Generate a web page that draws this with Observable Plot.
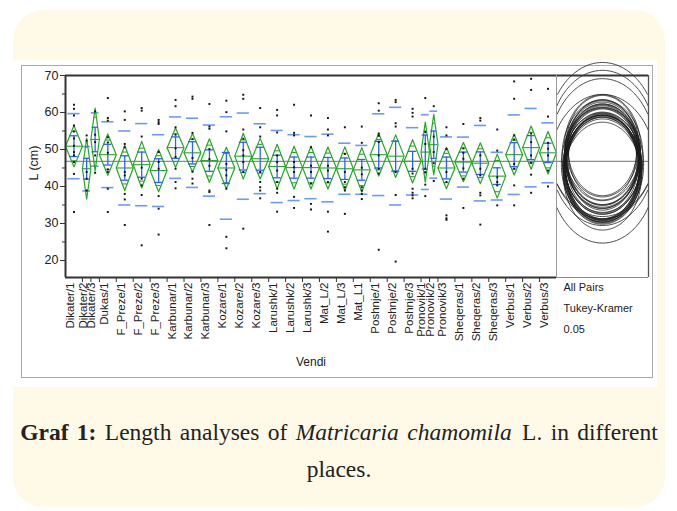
<!DOCTYPE html>
<html><head><meta charset="utf-8">
<script src="https://cdn.jsdelivr.net/npm/d3@7"></script>
<script src="https://cdn.jsdelivr.net/npm/@observablehq/plot@0.6"></script>
<style>
html,body{margin:0;padding:0;background:#fff;width:677px;height:511px;overflow:hidden;position:relative}
#card{position:absolute;left:13px;top:10px;width:652px;height:497px;background:#fefae7;border-radius:30px}
#white{position:absolute;left:13px;top:60px;width:644px;height:327px;background:#fff}
#panel{position:absolute;left:21px;top:65px;width:632px;height:313px;border:1px solid #a9a9a9;box-sizing:border-box}
#chart{position:absolute;left:13px;top:60px}
#cap{position:absolute;left:13px;width:652px;top:414px;text-align:center;font-family:"Liberation Serif",serif;font-size:23.5px;line-height:37px;color:#222;word-spacing:2.5px}
#cap i{padding-right:2px}
</style></head>
<body>
<div id="card"></div>
<div id="white"></div>
<div id="panel"></div>
<div id="chart"></div>
<div id="cap"><b>Graf 1:</b> Length analyses of <i>Matricaria chamomila</i> L. in different<br><span>places.</span></div>
<script>
const categories = ["Dikater/1","Dikater/2","Dikater/3","Dukas/1","F_Preze/1","F_Preze/2","F_Preze/3","Karbunar/1","Karbunar/2","Karbunar/3","Kozare/1","Kozare/2","Kozare/3","Larushk/1","Larushk/2","Larushk/3","Mat_L/2","Mat_L/3","Mat_L1","Poshnje/1","Poshnje/2","Poshnje/3","Pronovik/1","Pronovik/2","Pronovik/3","Sheqeras/1","Sheqeras/2","Sheqeras/3","Verbus/1","Verbus/2","Verbus/3"];
const sampleSize = [10,5,5,10,10,10,10,10,10,10,10,10,10,10,10,10,10,10,10,10,10,10,5,5,10,10,10,10,10,10,10];
const means = [50.9,44.8,52.7,48.6,45.0,45.9,44.3,50.5,49.1,47.0,45.0,48.2,47.5,45.4,45.1,45.1,45.0,44.8,44.5,48.6,48.2,46.8,49.3,51.3,45.0,46.6,46.3,42.8,48.6,50.5,49.1];
const diamondHalf = [5.6,8.2,8.5,5.6,6.1,6.3,5.7,5.3,5.2,5.9,5.6,6.2,5.5,6.0,5.8,5.8,5.7,5.9,6.0,5.8,5.75,5.85,8.1,8.2,5.6,5.3,5.5,5.95,5.5,5.85,5.75];
const stdDev = [8.8,6.0,7.2,8.9,10.0,11.1,9.7,8.3,9.35,9.6,13.85,11.65,9.45,9.75,8.9,8.4,9.15,6.9,6.6,11.05,13.2,9.1,10.1,9.05,8.4,6.75,10.2,6.45,10.75,10.6,8.1];
const stdErr = [2.8,2.8,3.3,2.8,3.3,3.4,3.2,2.9,3.0,2.9,4.2,3.75,3.1,3.05,2.85,2.85,2.85,2.9,2.8,3.6,4.05,2.7,4.6,3.7,2.95,2.7,3.05,2.25,3.25,3.25,2.6];
const observations = [
 [62.1,61.0,59.2,56.5,54.9,53.0,51.0,49.3,48.4,46.6,43.4,33.1],
 [53.8,52.4,43.9,42.1,38.9],
 [60.3,54.0,52.0,48.4,43.7],
 [63.9,58.5,57.8,53.3,51.9,49.1,44.6,43.9,39.4,33.1],
 [60.3,58.0,51.5,50.6,43.9,43.0,38.0,36.5,29.6],
 [61.2,60.5,53.5,45.1,42.1,40.3,37.7,24.1],
 [58.0,57.4,56.9,49.3,46.6,44.8,37.4,34.0,27.0],
 [63.4,61.7,56.0,54.0,50.3,48.0,44.8,41.2,39.5],
 [64.3,63.7,54.5,52.8,47.7,44.0,42.1,40.8],
 [62.3,56.2,55.6,50.1,47.4,45.6,38.9,38.5,29.6],
 [63.2,60.1,54.9,46.1,44.5,43.0,39.4,26.4,23.3],
 [64.8,63.7,55.4,52.9,49.8,48.4,46.6,43.9,28.6],
 [61.2,56.0,53.5,43.9,41.2,39.8,38.9,36.8],
 [60.7,59.2,54.6,48.4,46.6,44.3,41.2,39.4,38.3,33.2],
 [62.1,54.5,53.8,46.6,45.2,43.9,37.2,34.2],
 [59.2,50.6,45.6,43.9,40.8,35.3,33.8],
 [58.5,55.4,53.8,45.6,44.3,41.2,33.2,27.8],
 [56.0,48.8,43.9,41.2,39.8,38.9,32.6],
 [56.2,51.8,45.1,43.3,39.8,38.9,38.0,36.6],
 [62.5,60.5,54.3,53.7,52.0,48.4,44.8,43.5,22.9],
 [63.4,62.8,57.1,56.2,43.9,37.7,19.7],
 [61.0,59.9,58.9,44.8,43.5,39.4,38.3,37.6,36.8],
 [63.9,54.7,51.5,44.8,43.9,40.5,37.4],
 [61.7,53.5,49.3,46.3,41.5],
 [56.0,53.8,50.1,43.9,41.2,32.2,31.4,31.0],
 [56.9,50.3,49.1,47.5,44.9,42.1,34.2],
 [58.5,57.8,48.4,44.8,43.0,38.3,37.6,29.7],
 [55.4,49.7,42.5,41.2,40.3,34.9],
 [68.4,63.7,53.8,52.7,46.1,44.8,40.3,34.9],
 [69.1,66.1,54.3,52.0,48.4,46.4,43.2,38.3],
 [66.4,58.9,51.8,50.2,48.4,44.3,40.0]
];
const grandMean = 46.8;
const yTicks = [20,30,40,50,60,70];
const yMinorTicks = [25,35,45,55,65];
const panelNotes = ["All Pairs","Tukey-Kramer","0.05"];
const xTitle = "Vendi";
const yTitle = "L (cm)";

// layout helpers
const W = 644, H = 327;
const mL = 52, mR = 9, mT = 15, mB = 110;
const yDom = [15.4, 70];
const total = d3.sum(sampleSize);
const pxPerX = 491 / total;
const panelW = 92 / pxPerX;
const xMax = total + panelW;
const pxPerY = (H - mT - mB) / (yDom[1] - yDom[0]);

let acc = 0;
const groups = categories.map((name, i) => {
  const w = sampleSize[i];
  const g = {name, i, x0: acc, x1: acc + w, xc: acc + w / 2, w, m: means[i], h: diamondHalf[i], sd: stdDev[i], se: stdErr[i]};
  acc += w;
  return g;
});
const boundaries = [0, ...groups.map(g => g.x1)];

const diamonds = groups.flatMap(g => [
  {g: g.name, x: g.x0, y: g.m}, {g: g.name, x: g.xc, y: g.m + g.h},
  {g: g.name, x: g.x1, y: g.m}, {g: g.name, x: g.xc, y: g.m - g.h},
  {g: g.name, x: g.x0, y: g.m}
]);
const k = Math.SQRT1_2;
const greenRules = groups.flatMap(g => [
  {y: g.m, x1: g.x0, x2: g.x1},
  {y: g.m + g.h * k, x1: g.xc - g.w * (1 - k) / 2, x2: g.xc + g.w * (1 - k) / 2},
  {y: g.m - g.h * k, x1: g.xc - g.w * (1 - k) / 2, x2: g.xc + g.w * (1 - k) / 2}
]);
const sdRules = groups.flatMap(g => {
  const hw = g.w >= 10 ? g.w * 0.36 : g.w * 0.46;
  return [{y: g.m + g.sd, x1: g.xc - hw, x2: g.xc + hw}, {y: g.m - g.sd, x1: g.xc - hw, x2: g.xc + hw}];
});
const seCaps = groups.flatMap(g => {
  const hw = g.w >= 10 ? g.w * 0.24 : g.w * 0.36;
  return [{y: g.m + g.se, x1: g.xc - hw, x2: g.xc + hw}, {y: g.m - g.se, x1: g.xc - hw, x2: g.xc + hw}];
});
const points = groups.flatMap(g => observations[g.i].map(v => ({x: g.xc, y: v})));

// comparison circles (ellipses because of the panel's aspect)
const cx = total + panelW / 2;
const circles = [];
groups.forEach(g => {
  const r = g.h * 2.45;
  const rx = r * pxPerY * 0.72 / pxPerX;
  for (let a = 0; a <= 360; a += 1.5) {
    const t = a * Math.PI / 180;
    let x = cx + rx * Math.cos(t);
    if (x < total + 0.2 || x > xMax - 0.2) x = NaN;
    circles.push({g: g.name, x, y: g.m + r * Math.sin(t)});
  }
});

const font = "Liberation Sans, Arial, sans-serif";
const dark = "#333";
const tick = 5 / pxPerX, minor = 3 / pxPerX;
const belowY = px => yDom[0] - px / pxPerY;

const plot = Plot.plot({
  width: W, height: H,
  marginLeft: mL, marginRight: mR, marginTop: mT, marginBottom: mB,
  style: {background: "transparent", fontFamily: font},
  x: {domain: [0, xMax], axis: null},
  y: {domain: yDom, axis: null},
  marks: [
    Plot.ruleY([grandMean], {x1: 0, x2: xMax, stroke: "#8c8c8c", strokeWidth: 1.3}),
    Plot.ruleY(sdRules, {y: "y", x1: "x1", x2: "x2", stroke: "#6d9af5", strokeWidth: 1.6}),
    Plot.line(diamonds, {x: "x", y: "y", z: "g", stroke: "#26a626", strokeWidth: 1.2}),
    Plot.ruleY(greenRules, {y: "y", x1: "x1", x2: "x2", stroke: "#26a626", strokeWidth: 1.1}),
    Plot.ruleX(groups, {x: "xc", y1: d => d.m - d.se, y2: d => d.m + d.se, stroke: "#2f62ee", strokeWidth: 1.3}),
    Plot.ruleY(seCaps, {y: "y", x1: "x1", x2: "x2", stroke: "#2f62ee", strokeWidth: 1.3}),
    Plot.dot(points, {x: "x", y: "y", r: 1.1, symbol: "square", fill: "#111", stroke: null}),
    Plot.line(circles, {x: "x", y: "y", z: "g", stroke: "#1a1a1a", strokeWidth: 0.8}),
    // frame
    Plot.ruleY([yDom[1]], {x1: 0, x2: xMax, stroke: dark, strokeWidth: 2}),
    Plot.ruleY([yDom[0]], {x1: 0, x2: total, stroke: dark, strokeWidth: 2}),
    Plot.ruleY([yDom[0]], {x1: total, x2: xMax, stroke: "#8a8a8a", strokeWidth: 1}),
    Plot.ruleX([0], {y1: yDom[0], y2: yDom[1], stroke: dark, strokeWidth: 2}),
    Plot.ruleX([total], {y1: yDom[0], y2: yDom[1], stroke: "#9a9a9a", strokeWidth: 1}),
    Plot.ruleX([xMax], {y1: yDom[0], y2: yDom[1], stroke: "#555", strokeWidth: 1.3}),
    // y axis
    Plot.ruleY(yTicks, {y: d => d, x1: -tick, x2: 0, stroke: dark}),
    Plot.ruleY(yMinorTicks, {y: d => d, x1: -minor, x2: 0, stroke: dark}),
    Plot.text(yTicks, {y: d => d, text: d => String(d), frameAnchor: "left", textAnchor: "end", dx: -7, fontSize: 12.5, fill: "#222"}),
    Plot.text([yTitle], {text: d => d, frameAnchor: "left", rotate: -90, dx: -32, dy: 4, fontSize: 12.5, fill: "#222"}),
    // x axis
    Plot.ruleX(boundaries.slice(1, -1), {x: d => d, y1: yDom[0], y2: belowY(5), stroke: dark}),
    Plot.text(groups, {x: "xc", text: "name", frameAnchor: "bottom", rotate: -90, textAnchor: "end", dy: 5, fontSize: 11.5, fill: "#222"}),
    Plot.text([xTitle], {x: total / 2, text: d => d, frameAnchor: "bottom", dy: 88, fontSize: 12, fill: "#222"}),
    ...panelNotes.map((t, i) => Plot.text([t], {x: total + 7 / pxPerX, text: d => d, frameAnchor: "bottom", textAnchor: "start", dy: 13 + i * 21, fontSize: 11, fill: "#222"}))
  ]
});
document.getElementById("chart").appendChild(plot);
</script>
</body></html>
